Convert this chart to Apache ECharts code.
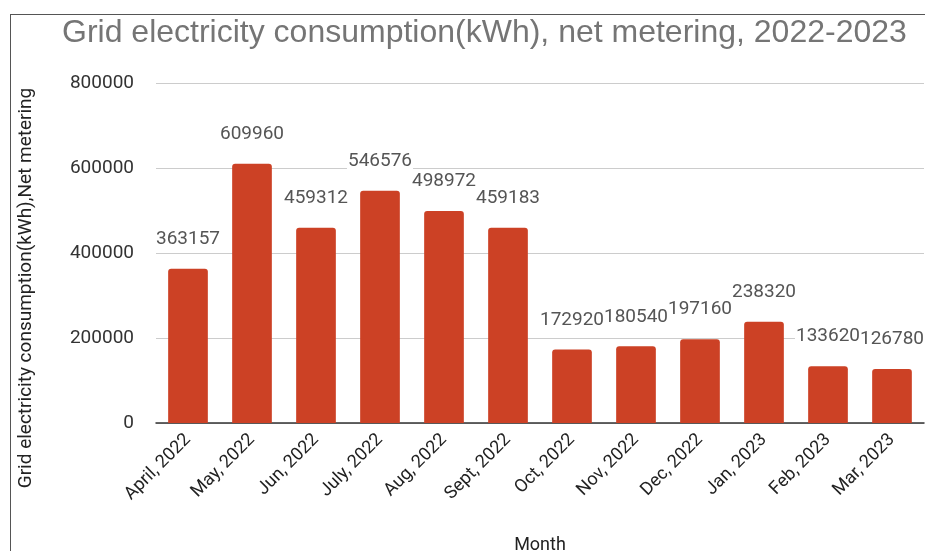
<!DOCTYPE html>
<html>
<head>
<meta charset="utf-8">
<style>
  html, body { margin: 0; padding: 0; background: #fff; }
  #chart { width: 925px; height: 551px; }
  .frame {
    position: absolute; left: 10px; top: 14px; width: 960px; height: 600px;
    border: 1px solid #555; pointer-events: none;
  }
</style>
<script src="https://cdn.jsdelivr.net/npm/echarts@6/dist/echarts.min.js"></script>
</head>
<body>
<div id="chart"></div>
<div class="frame"></div>
<script>
// data
const months = ['April, 2022', 'May, 2022', 'Jun, 2022', 'July, 2022', 'Aug, 2022', 'Sept, 2022',
  'Oct, 2022', 'Nov, 2022', 'Dec, 2022', 'Jan, 2023', 'Feb, 2023', 'Mar, 2023']
const consumption = [363157, 609960, 459312, 546576, 498972, 459183,
  172920, 180540, 197160, 238320, 133620, 126780]
const yTicks = [0, 200000, 400000, 600000, 800000]

const FONT = '"Liberation Sans", Arial, sans-serif'
const ROBOTO = 'Roboto, "Liberation Sans", sans-serif'
const myChart = echarts.init(document.getElementById('chart'))

myChart.setOption({
  animation: false,
  title: {
    text: 'Grid electricity consumption(kWh), net metering, 2022-2023',
    left: 57,
    top: 12,
    textStyle: { fontFamily: FONT, fontSize: 32, fontWeight: 'normal', color: '#757575' }
  },
  grid: { left: 156, right: 1, top: 83, bottom: 128, outerBoundsMode: 'none' },
  xAxis: {
    type: 'category',
    data: months,
    name: 'Month',
    nameLocation: 'middle',
    nameGap: 113,
    nameTextStyle: { fontFamily: ROBOTO, fontSize: 18, color: '#222' },
    axisLine: { lineStyle: { color: '#333', width: 1.5 } },
    axisTick: { show: false },
    axisLabel: {
      rotate: 45,
      interval: 0,
      margin: 14,
      fontFamily: ROBOTO,
      fontSize: 18,
      color: '#222'
    }
  },
  yAxis: {
    type: 'value',
    min: yTicks[0],
    max: yTicks[yTicks.length - 1],
    interval: yTicks[1] - yTicks[0],
    axisLine: { show: false },
    axisTick: { show: false },
    splitLine: { lineStyle: { color: '#ccc' } },
    axisLabel: {
      margin: 22,
      fontFamily: ROBOTO,
      fontSize: 19,
      color: '#333',
      formatter: v => String(v)
    }
  },
  graphic: [
    {
      type: 'text',
      x: 26,
      y: 288,
      rotation: Math.PI / 2,
      style: {
        text: 'Grid electricity consumption(kWh),Net metering',
        font: '19px ' + ROBOTO,
        fill: '#222',
        align: 'center',
        verticalAlign: 'middle'
      }
    }
  ],
  series: [
    {
      type: 'bar',
      data: consumption,
      barCategoryGap: '38%',
      itemStyle: { color: '#cc4125', borderRadius: [3, 3, 0, 0] },
      label: {
        show: true,
        position: 'top',
        distance: 20,
        fontFamily: ROBOTO,
        fontSize: 19,
        color: '#555',
        backgroundColor: '#fff',
        padding: [0, 1]
      }
    }
  ]
})
</script>
</body>
</html>
